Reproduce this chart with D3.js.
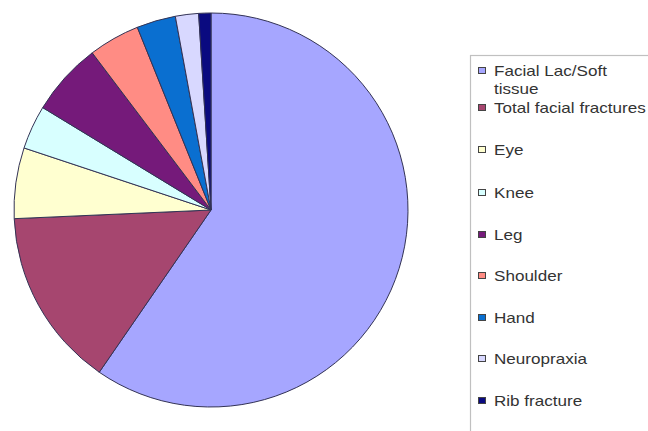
<!DOCTYPE html>
<html><head><meta charset="utf-8">
<script src="https://cdn.jsdelivr.net/npm/d3@7"></script>
<style>body{margin:0;background:#fff}svg{display:block}</style>
</head><body>
<svg id="c" width="648" height="431"></svg>
<script>
const categories = ["Facial Lac/Soft tissue","Total facial fractures","Eye","Knee","Leg","Shoulder","Hand","Neuropraxia","Rib fracture"];
const values = [59.6, 14.7, 5.8, 3.6, 6.0, 4.2, 3.2, 1.9, 1.0];
const colors = ["#a6a6ff","#a6466f","#ffffd0","#d8ffff","#751a7a","#ff8c84","#0a6fd0","#d8d8ff","#0a0a80"];
const legendLines = [["Facial Lac/Soft","tissue"],["Total facial fractures"],["Eye"],["Knee"],["Leg"],["Shoulder"],["Hand"],["Neuropraxia"],["Rib fracture"]];
const legendY = [76, 113, 155, 198, 240, 281, 323, 364, 406];

const svg = d3.select("#c");
const cx = 211, cy = 210, r = 197;
const pie = d3.pie().sort(null).value(d => d)(values);
const arc = d3.arc().innerRadius(0).outerRadius(r);
svg.append("g").attr("transform", `translate(${cx},${cy})`)
  .selectAll("path").data(pie).join("path")
  .attr("d", arc).attr("fill", (d,i) => colors[i])
  .attr("stroke", "#333355").attr("stroke-width", 1).attr("stroke-linejoin","round");

// legend
svg.append("rect").attr("x", 470.5).attr("y", 55.5).attr("width", 200).attr("height", 390)
  .attr("fill", "none").attr("stroke", "#c0c0c0").attr("stroke-width", 1.2);
const lg = svg.append("g");
categories.forEach((c, i) => {
  const y = legendY[i];
  lg.append("rect").attr("x", 478.5).attr("y", y - 8.5).attr("width", 7).attr("height", 6)
    .attr("fill", colors[i]).attr("stroke", "#444").attr("stroke-width", 1);
  legendLines[i].forEach((t, j) => {
    lg.append("text").attr("transform", `translate(494,${y + j * 18}) scale(1.22,1)`)
      .attr("font-family", "Liberation Sans, Arial, sans-serif").attr("font-size", 14)
      .attr("fill", "#333").text(t);
  });
});
</script>
</body></html>
